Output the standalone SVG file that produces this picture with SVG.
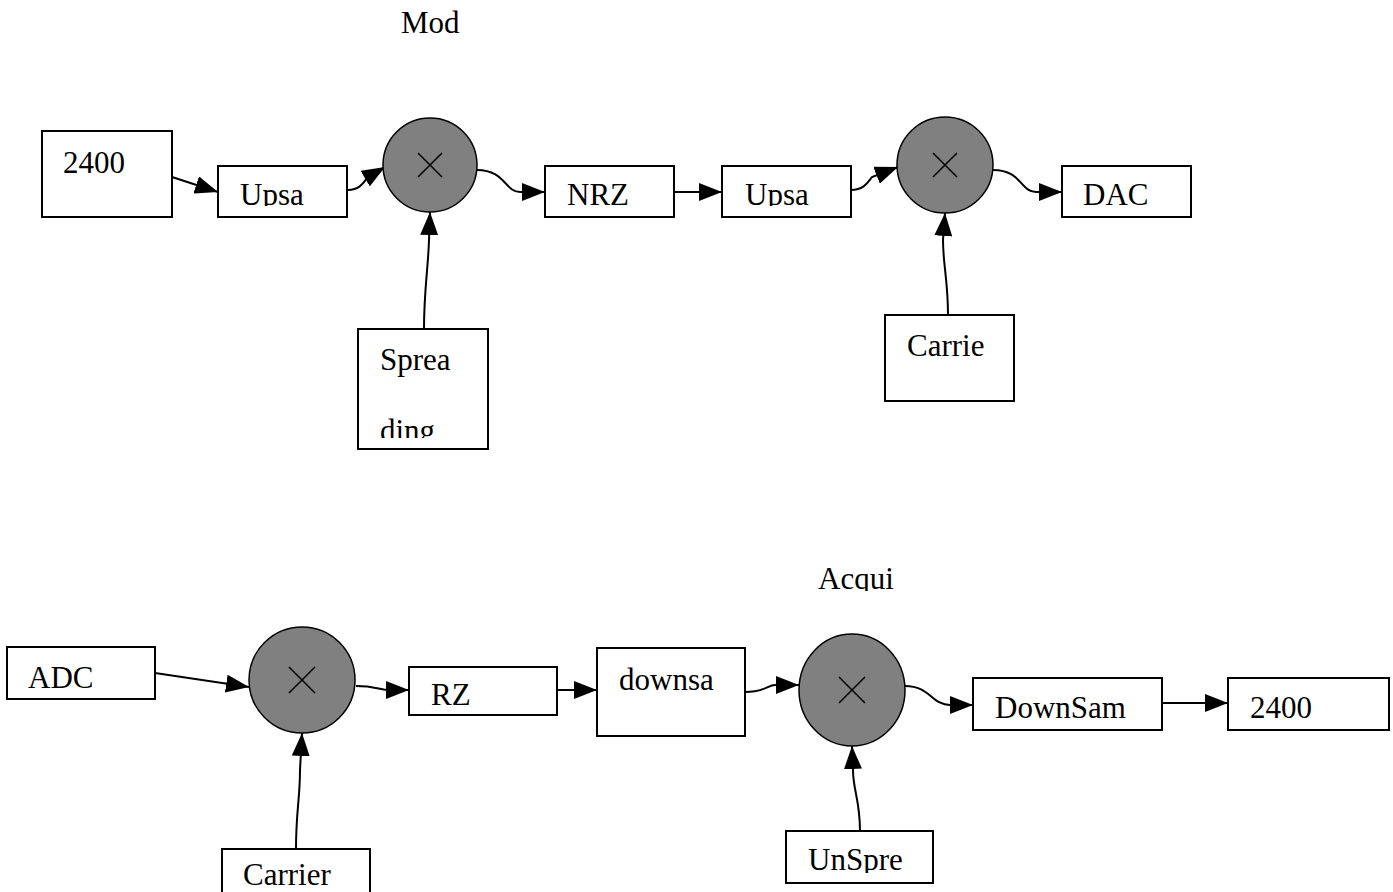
<svg xmlns="http://www.w3.org/2000/svg" width="1393" height="892" viewBox="0 0 1393 892">
<style>
.box{fill:#fff;stroke:#000;stroke-width:2}
.mix{fill:#808080;stroke:#000;stroke-width:1.5}
.x{stroke:#000;stroke-width:1.6;fill:none}
.t{font-family:"Liberation Serif","Times New Roman",serif;font-size:31px;fill:#000}
.c{fill:none;stroke:#000;stroke-width:2}
</style>
<defs>
<marker id="ah" markerUnits="userSpaceOnUse" markerWidth="23" markerHeight="18" refX="23" refY="9" orient="auto">
<path d="M0,0 L23,9 L0,18 z" fill="#000"/>
</marker>
<clipPath id="cl1"><rect x="218" y="166" width="129" height="40"/></clipPath>
<clipPath id="cl2"><rect x="722" y="166" width="129" height="40"/></clipPath>
<clipPath id="cl3"><rect x="358" y="329" width="130" height="109"/></clipPath>
<clipPath id="cl4"><rect x="780" y="540" width="200" height="51"/></clipPath>
<clipPath id="cl5"><rect x="786" y="831" width="147" height="42"/></clipPath>
</defs>
<rect width="1393" height="892" fill="#fff"/>
<text class="t" x="401" y="33">Mod</text>
<text class="t" x="818" y="589" clip-path="url(#cl4)">Acqui</text>
<g id="connectors">
<path class="c" marker-end="url(#ah)" d="M172,177 L218,192"/>
<path class="c" marker-end="url(#ah)" d="M348,190 C360,190 364,182 368,177 L385,167"/>
<path class="c" marker-end="url(#ah)" d="M477,170 C505,170 505,192 520,192 L545,192"/>
<path class="c" marker-end="url(#ah)" d="M674,192 L722,192"/>
<path class="c" marker-end="url(#ah)" d="M851,190 C864,190 868,182 872,177 L898,167"/>
<path class="c" marker-end="url(#ah)" d="M993,170 C1022,170 1020,192 1036,192 L1062,192"/>
<path class="c" marker-end="url(#ah)" d="M424,329 C424,290 428,270 429,240 L430,212"/>
<path class="c" marker-end="url(#ah)" d="M948,315 C948,280 943,265 943,240 L945,213"/>
<path class="c" marker-end="url(#ah)" d="M155,673 L249,687"/>
<path class="c" marker-end="url(#ah)" d="M356,686 C375,686 380,690 390,690 L409,690"/>
<path class="c" marker-end="url(#ah)" d="M557,690 L597,690"/>
<path class="c" marker-end="url(#ah)" d="M745,692 C765,692 768,685 775,685 L799,685"/>
<path class="c" marker-end="url(#ah)" d="M905,686 C930,686 932,705 950,705 L973,705"/>
<path class="c" marker-end="url(#ah)" d="M1162,703 L1228,703"/>
<path class="c" marker-end="url(#ah)" d="M860,831 C860,800 853,790 853,770 L852,746"/>
<path class="c" marker-end="url(#ah)" d="M296,849 C296,810 300,800 300,770 L302,733"/>
</g>
<g id="n2400a"><rect class="box" x="42" y="131" width="130" height="86"/><text class="t" x="63" y="173">2400</text></g>
<g id="upsa1"><rect class="box" x="218" y="166" width="129" height="51"/><text class="t" x="240" y="205" clip-path="url(#cl1)">Upsa</text></g>
<g id="mix1"><ellipse class="mix" cx="430" cy="165" rx="47" ry="47"/><path class="x" d="M418,153 L442,177 M442,153 L418,177"/></g>
<g id="nrz"><rect class="box" x="545" y="166" width="129" height="51"/><text class="t" x="567" y="205">NRZ</text></g>
<g id="upsa2"><rect class="box" x="722" y="166" width="129" height="51"/><text class="t" x="745" y="205" clip-path="url(#cl2)">Upsa</text></g>
<g id="mix2"><ellipse class="mix" cx="945" cy="165" rx="48" ry="48"/><path class="x" d="M933,153 L957,177 M957,153 L933,177"/></g>
<g id="dac"><rect class="box" x="1062" y="166" width="129" height="51"/><text class="t" x="1083" y="205">DAC</text></g>
<g id="spreading"><rect class="box" x="358" y="329" width="130" height="120"/><text class="t" clip-path="url(#cl3)"><tspan x="380" y="370">Sprea</tspan><tspan x="380" y="441">ding</tspan></text></g>
<g id="carrie"><rect class="box" x="885" y="315" width="129" height="86"/><text class="t" x="907" y="356">Carrie</text></g>
<g id="adc"><rect class="box" x="7" y="647" width="148" height="52"/><text class="t" x="28" y="688">ADC</text></g>
<g id="mix3"><ellipse class="mix" cx="302" cy="680" rx="53" ry="53"/><path class="x" d="M289,667 L315,693 M315,667 L289,693"/></g>
<g id="rz"><rect class="box" x="409" y="667" width="148" height="48"/><text class="t" x="431" y="705">RZ</text></g>
<g id="downsa"><rect class="box" x="597" y="648" width="148" height="88"/><text class="t" x="619" y="690">downsa</text></g>
<g id="mix4"><ellipse class="mix" cx="852" cy="690" rx="53" ry="56"/><path class="x" d="M839,677 L865,703 M865,677 L839,703"/></g>
<g id="downsam"><rect class="box" x="973" y="678" width="189" height="52"/><text class="t" x="995" y="718">DownSam</text></g>
<g id="n2400b"><rect class="box" x="1228" y="678" width="161" height="52"/><text class="t" x="1250" y="718">2400</text></g>
<g id="carrier"><rect class="box" x="222" y="849" width="148" height="60"/><text class="t" x="243" y="885">Carrier</text></g>
<g id="unspre"><rect class="box" x="786" y="831" width="147" height="52"/><text class="t" x="808" y="870" clip-path="url(#cl5)">UnSpre</text></g>
</svg>
